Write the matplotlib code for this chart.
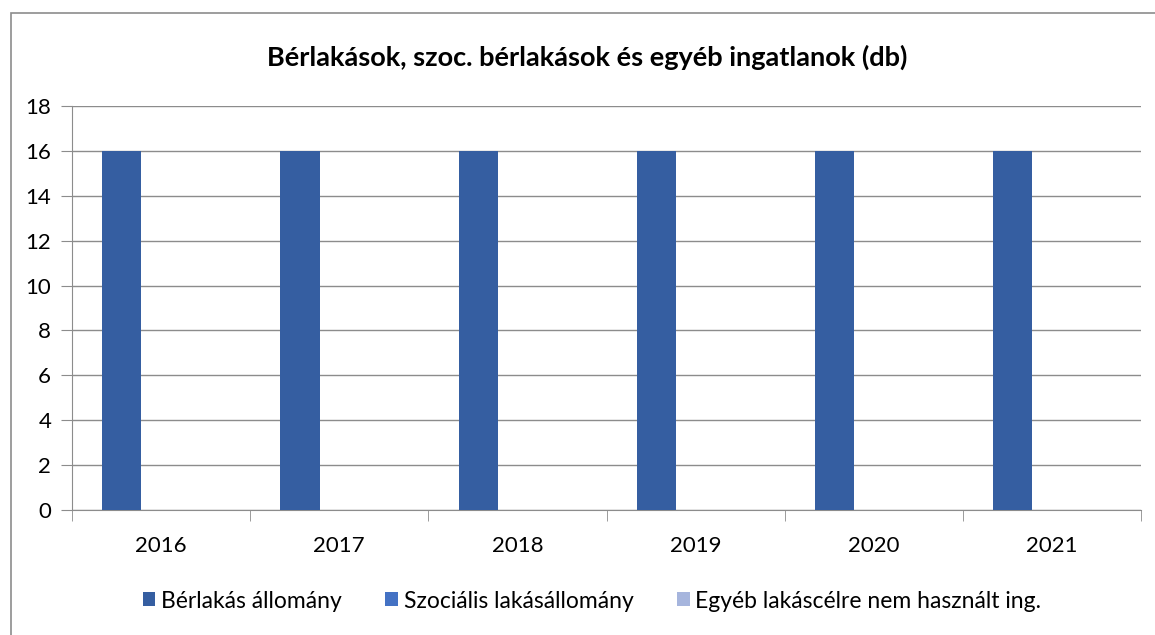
import matplotlib
matplotlib.use("Agg")
import matplotlib.pyplot as plt
from matplotlib.patches import Rectangle
import numpy as np

plt.rcParams['font.family'] = ['Lato', 'DejaVu Sans']

years = ['2016', '2017', '2018', '2019', '2020', '2021']
berlakas = [16, 16, 16, 16, 16, 16]
szocialis = [0, 0, 0, 0, 0, 0]
egyeb = [0, 0, 0, 0, 0, 0]
series_names = ['Bérlakás állomány', 'Szociális lakásállomány', 'Egyéb lakáscélre nem használt ing.']
colors = ['#355ea1', '#4472c4', '#a6b5dd']
title = 'Bérlakások, szoc. bérlakások és egyéb ingatlanok (db)'

fig = plt.figure(figsize=(11.55, 6.35), dpi=100)
fig.patches.append(Rectangle((11/1155, -0.05), 1.1, 1 - 13/635 + 0.05, transform=fig.transFigure,
                             fill=False, edgecolor='#8c8c8c', linewidth=1.2))
ax = fig.add_axes([72/1155, 1 - 510/635, (1141-72)/1155, (510-106)/635])

x = np.arange(len(years))
w = 0.22
for i, (vals, name, c) in enumerate(zip([berlakas, szocialis, egyeb], series_names, colors)):
    ax.bar(x + (i - 1) * w, vals, width=w, color=c, label=name, zorder=3)

ax.set_xlim(-0.5, len(years) - 0.5)
ax.set_ylim(0, 18)
ax.set_yticks(range(0, 19, 2))
ax.yaxis.grid(True, color='#8c8c8c', linewidth=1, zorder=0)
ax.set_xticks(x)
ax.set_xticklabels(years)
ax.set_xticks(np.arange(-0.5, len(years)), minor=True)
ax.tick_params(axis='x', which='major', length=0, pad=19, labelsize=16)
ax.tick_params(axis='x', which='minor', length=8, color='#8c8c8c')
ax.tick_params(axis='y', length=8, color='#8c8c8c', labelsize=16, pad=7)
for s in ['top', 'right']:
    ax.spines[s].set_visible(False)
for s in ['left', 'bottom']:
    ax.spines[s].set_color('#8c8c8c')

fig.text(587/1155, 1 - 57/635, title, ha='center', va='center', fontsize=19.5, fontweight='bold')
fig.legend(loc='center', bbox_to_anchor=(592/1155, 1 - 601/635), ncol=3, frameon=False,
           fontsize=16.5, handlelength=0.55, handleheight=0.55, handletextpad=0.25, columnspacing=1.9)

fig.savefig('out.png', dpi=100)
